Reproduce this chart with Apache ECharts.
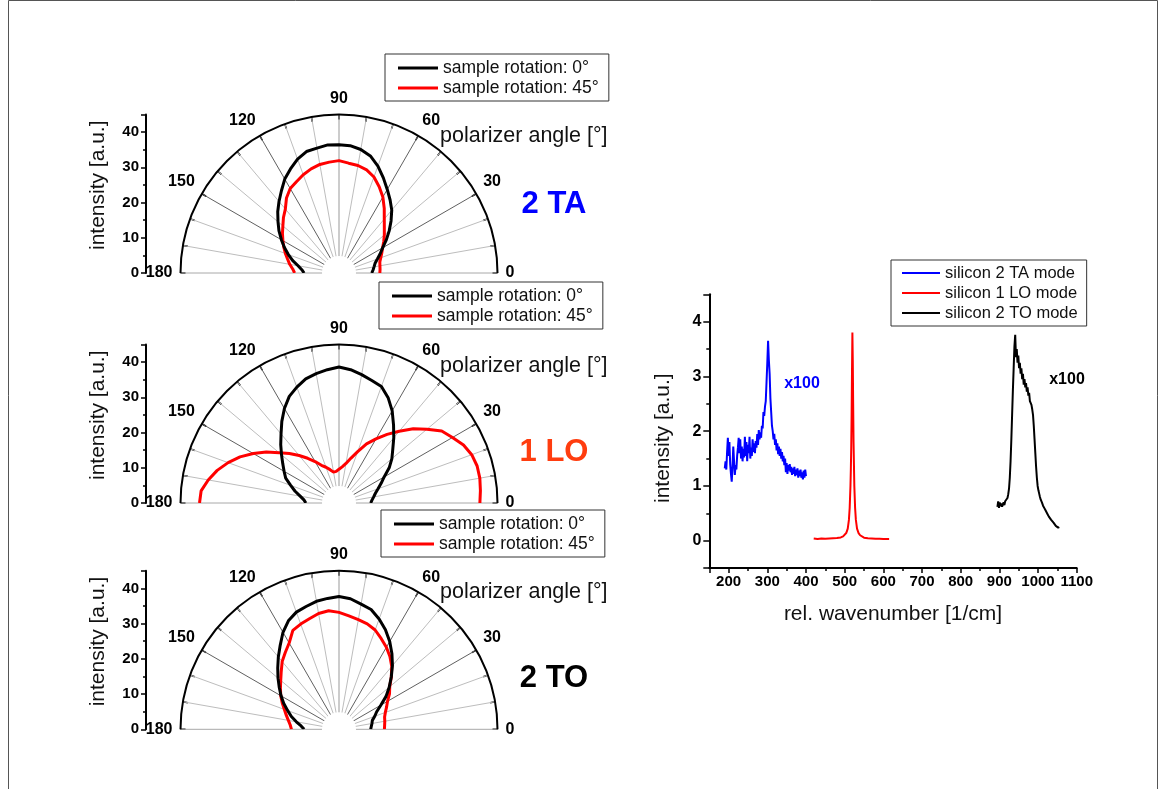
<!DOCTYPE html>
<html>
<head>
<meta charset="utf-8">
<script src="https://cdn.jsdelivr.net/npm/echarts@6/dist/echarts.min.js"></script>
<style>
  html, body { margin: 0; padding: 0; background: #fff; }
  #chart { width: 1160px; height: 789px; }
</style>
</head>
<body>
<div id="chart"></div>
<script>
// Polarizer angle samples (degrees) shared by the three polar plots
const polarAngles = [0, 5, 10, 15, 20, 25, 30, 35, 40, 45, 50, 55, 60, 65, 70, 75, 80, 85, 90,
  95, 100, 105, 110, 115, 120, 125, 130, 135, 140, 145, 150, 155, 160, 165, 170, 175, 180];

// 2 TA mode intensity vs polarizer angle
const taRot0 = [9.3, 9.7, 10.1, 10.6, 11.6, 12.9, 14.3, 16.4, 18.6, 20.9, 23.3, 25.3, 27.4, 29.8, 32.3, 34.4, 35.6, 36.3, 36.4,
  36.5, 36.0, 35.7, 34.4, 32.6, 30.8, 28.5, 26.5, 24.6, 22.6, 20.8, 18.9, 17.1, 15.3, 13.6, 11.8, 10.6, 9.9];
const taRot45 = [11.6, 11.7, 11.8, 12.0, 12.6, 13.4, 14.3, 15.5, 16.8, 18.2, 20.0, 22.4, 24.9, 27.0, 29.0, 30.3, 31.0, 31.3, 31.9,
  31.6, 31.3, 30.6, 29.7, 28.6, 27.7, 26.0, 23.7, 22.3, 20.8, 19.6, 18.4, 17.3, 16.2, 15.1, 14.2, 13.2, 12.6];

// 1 LO mode intensity vs polarizer angle
const loRot0 = [9.0, 9.4, 10.0, 10.7, 11.8, 13.2, 14.8, 17.4, 19.6, 21.6, 24.2, 27.0, 30.2, 33.0, 35.2, 36.0, 37.0, 38.0, 38.6,
  38.0, 37.3, 36.5, 35.0, 33.4, 31.0, 28.3, 25.6, 23.4, 21.3, 19.5, 18.0, 16.7, 14.6, 12.9, 11.2, 10.0, 9.4];
const loRot45 = [40.0, 40.3, 40.6, 40.6, 40.1, 39.0, 37.2, 35.6, 32.6, 29.8, 26.6, 23.8, 21.0, 18.5, 15.5, 13.2, 11.4, 10.3, 9.6,
  9.0, 8.9, 9.8, 10.8, 11.8, 13.6, 15.5, 17.6, 19.9, 22.2, 25.2, 28.1, 31.0, 33.5, 35.8, 37.7, 39.3, 39.6];

// 2 TO mode intensity vs polarizer angle
const toRot0 = [9.0, 9.2, 9.5, 9.8, 10.8, 11.8, 13.7, 16.3, 18.6, 21.0, 23.6, 26.2, 28.8, 31.2, 33.3, 35.2, 36.1, 37.2, 37.7,
  37.3, 36.9, 36.1, 35.4, 34.0, 31.8, 29.1, 26.8, 24.6, 22.6, 20.7, 19.0, 17.3, 15.5, 14.0, 12.3, 10.8, 9.9];
const toRot45 = [12.9, 13.0, 13.2, 13.4, 14.0, 14.9, 15.9, 17.5, 18.8, 21.0, 23.3, 25.2, 26.9, 28.4, 30.0, 31.0, 31.6, 32.3, 33.2,
  33.8, 33.4, 32.5, 31.8, 31.0, 28.3, 26.6, 25.1, 23.2, 21.6, 20.3, 19.1, 17.8, 16.5, 15.5, 14.6, 13.9, 13.5];

const legendNames = ['sample rotation: 0°', 'sample rotation: 45°'];
const angleTickLabels = [0, 30, 60, 90, 120, 150, 180];
const modeLabels = ['2 TA', '1 LO', '2 TO'];

// Raman spectra (rel. wavenumber in 1/cm, intensity in a.u.)
const taWave = [190, 192, 194, 196, 198, 200, 202, 204, 206, 208, 210, 212, 214, 216, 218, 220, 222, 224, 226, 228,
  230, 232, 234, 236, 238, 240, 242, 244, 246, 248, 250, 252, 254, 256, 258, 260, 262, 264, 266, 268,
  270, 272, 274, 276, 278, 280, 282, 284, 286, 288, 290, 292, 294, 296, 298, 300, 302, 304, 306, 308,
  310, 312, 314, 316, 318, 320, 322, 324, 326, 328, 330, 332, 334, 336, 338, 340, 342, 344, 346, 348,
  350, 352, 354, 356, 358, 360, 362, 364, 366, 368, 370, 372, 374, 376, 378, 380, 382, 384, 386, 388,
  390, 392, 394, 396, 398, 400];
const taIntensity = [1.32, 1.45, 1.30, 1.62, 1.88, 1.55, 1.80, 1.40, 1.22, 1.08, 1.35, 1.72, 1.45, 1.20, 1.38, 1.30, 1.55, 1.70, 1.88, 1.60,
  1.85, 1.50, 1.72, 1.45, 1.68, 1.52, 1.90, 1.55, 1.80, 1.45, 1.75, 1.60, 1.90, 1.50, 1.70, 1.55, 1.85, 1.62, 1.78, 1.60,
  1.82, 1.70, 1.95, 1.75, 2.02, 1.85, 1.98, 1.88, 2.10, 2.05, 2.35, 2.28, 2.45, 2.55, 2.90, 3.25, 3.65, 3.30, 3.05, 2.60,
  2.35, 2.10, 2.00, 1.85, 1.95, 1.75, 1.85, 1.65, 1.78, 1.58, 1.72, 1.55, 1.68, 1.50, 1.62, 1.45, 1.55, 1.38, 1.50, 1.25,
  1.42, 1.22, 1.38, 1.28, 1.40, 1.25, 1.35, 1.20, 1.32, 1.22, 1.35, 1.18, 1.30, 1.20, 1.32, 1.15, 1.28, 1.18, 1.30, 1.15,
  1.25, 1.12, 1.28, 1.15, 1.30, 1.18];

const loWave = [420, 430, 440, 450, 460, 470, 480, 490, 496, 500, 504, 508, 511, 513, 515, 516, 517, 518, 519, 520,
  521, 522, 523, 525, 527, 529, 532, 536, 540, 545, 550, 560, 570, 580, 590, 600, 615];
const loIntensity = [0.04, 0.03, 0.04, 0.035, 0.04, 0.045, 0.05, 0.06, 0.08, 0.10, 0.14, 0.22, 0.38, 0.60, 1.00, 1.30, 1.70, 2.30, 3.10, 3.80,
  3.30, 2.50, 1.80, 1.00, 0.60, 0.38, 0.22, 0.14, 0.10, 0.07, 0.055, 0.045, 0.04, 0.035, 0.035, 0.03, 0.03];

const toWave = [895, 897, 899, 901, 903, 905, 907, 909, 911, 913, 915, 917, 919, 921, 923, 925, 927, 929, 931, 933,
  935, 937, 939, 941, 943, 945, 947, 949, 951, 953, 955, 957, 959, 961, 963, 965, 967, 969, 971, 973,
  975, 977, 979, 981, 983, 985, 987, 989, 991, 993, 995, 997, 999, 1001, 1003, 1005, 1007, 1010, 1013, 1016,
  1019, 1022, 1025, 1028, 1031, 1034, 1037, 1040, 1043, 1046, 1049, 1052, 1055];
const toIntensity = [0.62, 0.72, 0.60, 0.70, 0.63, 0.68, 0.62, 0.66, 0.70, 0.65, 0.72, 0.70, 0.74, 0.78, 0.85, 0.95, 1.15, 1.45, 1.85, 2.30,
  2.75, 3.15, 3.55, 3.76, 3.35, 3.50, 3.25, 3.38, 3.15, 3.25, 3.05, 3.15, 2.95, 3.05, 2.85, 2.95, 2.80, 2.88, 2.72, 2.80,
  2.65, 2.70, 2.55, 2.58, 2.48, 2.40, 2.30, 2.10, 1.85, 1.60, 1.35, 1.15, 1.00, 0.92, 0.86, 0.80, 0.75, 0.70, 0.64, 0.60,
  0.56, 0.52, 0.48, 0.44, 0.41, 0.38, 0.35, 0.33, 0.30, 0.27, 0.25, 0.24, 0.25];

const spectrumNames = ['silicon 2 TA mode', 'silicon 1 LO mode', 'silicon 2 TO mode'];
const scaleNote = 'x100';

// ---- layout ----
const FONT = '"Liberation Sans", Arial, sans-serif';
const polarCenters = [[339, 273], [339, 503], [339, 729.3]];
const polarR = 158.5;
const holeR = 17;
const legendBoxes = [[385, 54], [379, 282], [381, 510]];
const modeColors = ['#0000ff', '#ff3d0f', '#000000'];
const modeLabelY = [204, 452, 678];
const polarData = [[taRot0, taRot45], [loRot0, loRot45], [toRot0, toRot45]];

// spoke shading: every 30 degrees darker, horizontal and vertical lighter
const spokeColors = [];
for (let a = 0; a <= 180; a += 10) {
  if (a === 0 || a === 180) spokeColors.push('#a8a8a8');
  else if (a === 90) spokeColors.push('#999999');
  else if (a % 30 === 0) spokeColors.push('#606060');
  else spokeColors.push('#bdbdbd');
}

const pairs = (xs, ys) => xs.map((x, i) => [x, ys[i]]);

const option = {
  backgroundColor: '#ffffff',
  animation: false,
  textStyle: { fontFamily: FONT },
  polar: polarCenters.map(c => ({ center: c, radius: polarR })),
  angleAxis: polarCenters.map((c, i) => ({
    polarIndex: i,
    type: 'value',
    min: 0, max: 180, interval: 10,
    startAngle: 0, endAngle: 180, clockwise: false,
    axisLine: { show: true, lineStyle: { color: '#000', width: 2 } },
    axisTick: { show: true, inside: true, length: 5, lineStyle: { color: '#000', width: 1.5 } },
    axisLabel: {
      show: true, margin: 8, color: '#000', fontSize: 16, fontWeight: 'bold', fontFamily: FONT,
      formatter: v => (angleTickLabels.indexOf(v) >= 0 ? String(v) : '')
    },
    splitLine: { show: true, lineStyle: { color: spokeColors, width: 1 } }
  })),
  radiusAxis: polarCenters.map((c, i) => ({
    polarIndex: i, type: 'value', min: 0, max: 45,
    axisLine: { show: false }, axisTick: { show: false }, axisLabel: { show: false }, splitLine: { show: false }
  })),
  // cartesian grids: three intensity scales for the polar plots + the spectrum
  grid: [
    ...polarCenters.map(c => ({ left: 146, top: c[1] - polarR, width: 10, height: polarR })),
    { left: 709.3, top: 294.3, width: 367.4, height: 273.8 }
  ],
  xAxis: [
    ...polarCenters.map((c, i) => ({ gridIndex: i, type: 'value', show: false, min: 0, max: 1 })),
    {
      gridIndex: 3, type: 'value', min: 150, max: 1100, splitNumber: 10,
      name: 'rel. wavenumber [1/cm]', nameLocation: 'middle', nameGap: 36,
      nameTextStyle: { fontSize: 21, color: '#111', fontFamily: FONT },
      axisLine: { show: true, onZero: false, lineStyle: { color: '#000', width: 2 } },
      axisTick: { show: true, inside: false, length: 5, lineStyle: { color: '#000', width: 1.5 } },
      minorTick: { show: true, splitNumber: 2, length: 3, lineStyle: { color: '#000', width: 1.5 } },
      axisLabel: { show: true, margin: 6, color: '#000', fontSize: 15, fontWeight: 'bold', fontFamily: FONT,
        showMinLabel: false, formatter: v => String(v) },
      splitLine: { show: false }
    }
  ],
  yAxis: [
    ...polarCenters.map((c, i) => ({
      gridIndex: i, type: 'value', min: 0, max: 45, interval: 10, position: 'left',
      name: 'intensity [a.u.]', nameLocation: 'middle', nameGap: 37,
      nameTextStyle: { fontSize: 21, color: '#111', fontFamily: FONT, padding: [0, 0, 0, 17] },
      axisLine: { show: true, lineStyle: { color: '#000', width: 2 } },
      axisTick: { show: true, inside: false, length: 5, lineStyle: { color: '#000', width: 1.5 } },
      minorTick: { show: true, splitNumber: 2, length: 3, lineStyle: { color: '#000', width: 1.5 } },
      axisLabel: { show: true, margin: 7, color: '#000', fontSize: 15, fontWeight: 'bold', fontFamily: FONT, showMaxLabel: false },
      splitLine: { show: false }
    })),
    {
      gridIndex: 3, type: 'value', min: -0.5, max: 4.5, splitNumber: 5,
      name: 'intensity [a.u.]', nameLocation: 'middle', nameGap: 36,
      nameTextStyle: { fontSize: 21, color: '#111', fontFamily: FONT, padding: [0, 14, 0, 0] },
      axisLine: { show: true, onZero: false, lineStyle: { color: '#000', width: 2 } },
      axisTick: { show: true, inside: false, length: 6, lineStyle: { color: '#000', width: 1.5 } },
      minorTick: { show: true, splitNumber: 2, length: 3, lineStyle: { color: '#000', width: 1.5 } },
      axisLabel: { show: true, margin: 8, color: '#000', fontSize: 16, fontWeight: 'bold', fontFamily: FONT, showMinLabel: false, showMaxLabel: false },
      splitLine: { show: false }
    }
  ],
  legend: [
    ...legendBoxes.map(b => ({
      left: b[0], top: b[1], orient: 'vertical',
      data: legendNames,
      icon: 'rect', itemWidth: 40, itemHeight: 3, itemGap: 0,
      padding: [4, 10, 3, 13],
      borderColor: '#333', borderWidth: 1, borderRadius: 0,
      backgroundColor: '#fff',
      textStyle: { fontSize: 17.5, color: '#111', fontFamily: FONT, lineHeight: 20 },
      selectedMode: false
    })),
    {
      left: 891, top: 260, orient: 'vertical',
      data: spectrumNames,
      icon: 'rect', itemWidth: 38, itemHeight: 2, itemGap: 0,
      padding: [3, 9, 3, 11],
      borderColor: '#333', borderWidth: 1, borderRadius: 0,
      textStyle: { fontSize: 16.5, color: '#111', fontFamily: FONT, lineHeight: 20 },
      selectedMode: false
    }
  ],
  series: [],
  graphic: []
};

// polar curves
polarData.forEach((curves, p) => {
  curves.forEach((vals, k) => {
    option.series.push({
      name: legendNames[k],
      type: 'line', coordinateSystem: 'polar', polarIndex: p,
      data: polarAngles.map((a, i) => [vals[i], a]),
      showSymbol: false, smooth: false, z: 3 + (1 - k),
      lineStyle: { color: k === 0 ? '#000000' : '#ff0000', width: 3 },
      itemStyle: { color: k === 0 ? '#000000' : '#ff0000' }
    });
  });
});

// spectra
[[taWave, taIntensity, '#0000ff'], [loWave, loIntensity, '#ff0000'], [toWave, toIntensity, '#000000']].forEach((s, i) => {
  option.series.push({
    name: spectrumNames[i],
    type: 'line', xAxisIndex: 3, yAxisIndex: 3,
    data: pairs(s[0], s[1]),
    showSymbol: false, smooth: false,
    lineStyle: { color: s[2], width: 2 },
    itemStyle: { color: s[2] }
  });
});

// annotations
polarCenters.forEach((c, p) => {
  // white hub where the spokes stop
  option.graphic.push({
    type: 'circle', silent: true, z: 1,
    shape: { cx: c[0], cy: c[1], r: holeR },
    style: { fill: '#ffffff', stroke: null }
  });
  option.graphic.push({
    type: 'text', x: 440, y: c[1] - 137,
    style: { text: 'polarizer angle [°]', fill: '#111', font: '21.5px ' + FONT,
      textAlign: 'left', textVerticalAlign: 'middle', align: 'left', verticalAlign: 'middle' }
  });
  option.graphic.push({
    type: 'text', x: 554, y: modeLabelY[p],
    style: { text: modeLabels[p], fill: modeColors[p], font: 'bold 31px ' + FONT,
      textAlign: 'center', textVerticalAlign: 'middle', align: 'center', verticalAlign: 'middle' }
  });
});
option.graphic.push({
  type: 'text', x: 802, y: 384,
  style: { text: scaleNote, fill: '#0000ff', font: 'bold 16px ' + FONT,
    textAlign: 'center', textVerticalAlign: 'middle', align: 'center', verticalAlign: 'middle' }
});
option.graphic.push({
  type: 'text', x: 1067, y: 380,
  style: { text: scaleNote, fill: '#000000', font: 'bold 16px ' + FONT,
    textAlign: 'center', textVerticalAlign: 'middle', align: 'center', verticalAlign: 'middle' }
});
// page frame
option.graphic.push({
  type: 'rect', silent: true,
  shape: { x: 8.5, y: 0.5, width: 1149, height: 820 },
  style: { fill: 'none', stroke: '#555', lineWidth: 1 }
});

const chart = echarts.init(document.getElementById('chart'), null, { renderer: 'canvas' });
chart.setOption(option);
</script>
</body>
</html>
